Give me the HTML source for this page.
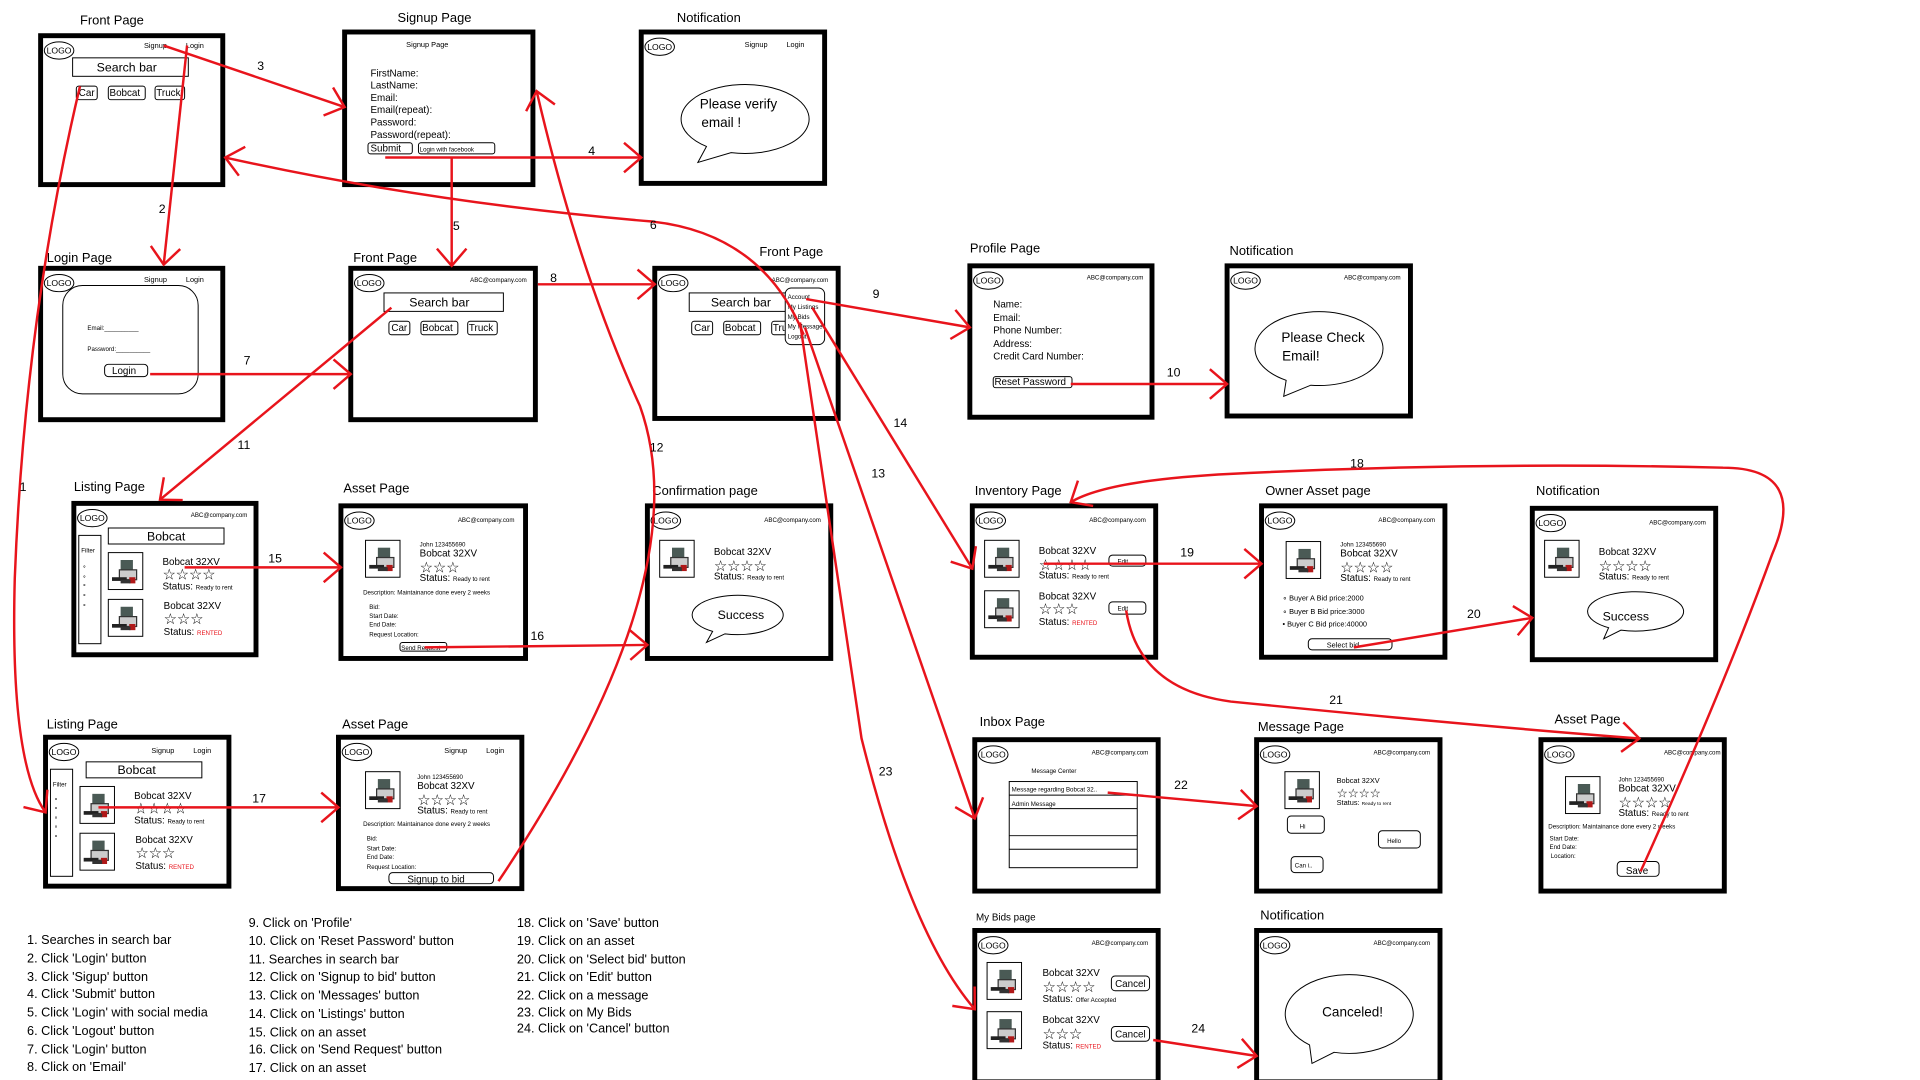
<!DOCTYPE html>
<html><head><meta charset="utf-8"><style>
html,body{margin:0;padding:0;background:#fff;width:1920px;height:1080px;overflow:hidden}
svg{display:block}
text{font-family:"Liberation Sans",sans-serif;fill:#000}
.t{font-size:10.5px}
.s{font-size:6px}
.xs{font-size:5px}
.m{font-size:8px}
.st{font-size:12px}
.f{fill:#fff;stroke:#000;stroke-width:4}
.o{fill:#fff;stroke:#000;stroke-width:0.8}
.a{fill:none;stroke:#e8141c;stroke-width:2}
</style></head><body>
<svg width="1920" height="1080" viewBox="0 0 1560 877.5" preserveAspectRatio="none" xmlns="http://www.w3.org/2000/svg">
<defs>
<marker id="ah" markerUnits="userSpaceOnUse" markerWidth="40" markerHeight="40" refX="20" refY="20" orient="auto">
<path d="M6,8 L20,20 L6,32" fill="none" stroke="#e8141c" stroke-width="2"/>
</marker>
<g id="logo"><ellipse cx="17" cy="14" rx="12" ry="7" fill="#fff" stroke="#000" stroke-width="0.8"/><text x="17" y="16.5" font-size="7" text-anchor="middle">LOGO</text></g>
<g id="pic"><rect x="0" y="0" width="28" height="30" fill="#fff" stroke="#000" stroke-width="0.8"/><rect x="10" y="6" width="10" height="9" fill="#4a5a55"/><rect x="9" y="14" width="14" height="8" fill="#ccc" stroke="#333" stroke-width="1"/><rect x="3" y="20" width="12" height="3" fill="#222"/><rect x="17" y="20" width="5" height="5" fill="#b01818"/><rect x="10" y="22" width="8" height="3" fill="#333"/></g>
</defs>

<!-- Front Page -->
<text x="65" y="20" class="t">Front Page</text>
<g transform="translate(31,27)"><rect class="f" x="2" y="2" width="148" height="121"/><use href="#logo" x="0" y="0"/>
<text x="86" y="12" class="s">Signup</text><text x="120" y="12" class="s">Login</text>
<rect class="o" x="28" y="20" width="94" height="15"/><text x="72" y="31" font-size="10" text-anchor="middle">Search bar</text>
<rect class="o" x="31" y="43" width="17" height="11" rx="2"/><text x="33" y="51" class="m">Car</text>
<rect class="o" x="57" y="43" width="30" height="11" rx="2"/><text x="58" y="51" class="m">Bobcat</text>
<rect class="o" x="95" y="43" width="24" height="11" rx="2"/><text x="96" y="51" class="m">Truck</text></g>

<!-- Signup Page -->
<text x="323" y="18" class="t">Signup Page</text>
<g transform="translate(278,24)"><rect class="f" x="2" y="2" width="153" height="124"/>
<text x="52" y="14" class="s">Signup Page</text>
<text x="23" y="38" class="m">FirstName:</text><text x="23" y="48" class="m">LastName:</text><text x="23" y="58" class="m">Email:</text><text x="23" y="68" class="m">Email(repeat):</text><text x="23" y="78" class="m">Password:</text><text x="23" y="88" class="m">Password(repeat):</text>
<rect class="o" x="21" y="92" width="36" height="9" rx="2"/><text x="23" y="99" class="m">Submit</text>
<rect class="o" x="62" y="92" width="62" height="9" rx="2"/><text x="63" y="99" class="xs">Login with facebook</text></g>

<!-- Notification -->
<text x="550" y="18" class="t">Notification</text>
<g transform="translate(519,24)"><rect class="f" x="2" y="2" width="149" height="123"/><use href="#logo"/>
<text x="86" y="14" class="s">Signup</text><text x="120" y="14" class="s">Login</text>
<path d="M55,95 A52,28 0 1,1 75,100 L48,108 Z" class="o"/>
<text x="81" y="64" font-size="11" text-anchor="middle">Please verify</text><text x="67" y="79" font-size="11" text-anchor="middle">email !</text></g>

<!-- Login Page -->
<text x="38" y="213" class="t">Login Page</text>
<g transform="translate(31,216)"><rect class="f" x="2" y="2" width="148" height="123"/><use href="#logo"/>
<text x="86" y="13" class="s">Signup</text><text x="120" y="13" class="s">Login</text>
<rect class="o" x="20" y="16" width="110" height="88" rx="16"/>
<text x="40" y="52" class="xs">Email:__________</text><text x="40" y="69" class="xs">Password:__________</text>
<rect class="o" x="54" y="80" width="35" height="10" rx="3"/><text x="60" y="88" class="m">Login</text></g>

<!-- Front Page 2 -->
<text x="287" y="213" class="t">Front Page</text>
<g transform="translate(283,216)"><rect class="f" x="2" y="2" width="150" height="123"/><use href="#logo"/>
<text x="145" y="13" class="xs" text-anchor="end">ABC@company.com</text>
<rect class="o" x="29" y="22" width="97" height="15"/><text x="74" y="33" font-size="10" text-anchor="middle">Search bar</text>
<rect class="o" x="33" y="45" width="17" height="11" rx="2"/><text x="35" y="53" class="m">Car</text>
<rect class="o" x="59" y="45" width="30" height="11" rx="2"/><text x="60" y="53" class="m">Bobcat</text>
<rect class="o" x="97" y="45" width="24" height="11" rx="2"/><text x="98" y="53" class="m">Truck</text></g>

<!-- Front Page 3 -->
<text x="617" y="208" class="t">Front Page</text>
<g transform="translate(530,216)"><rect class="f" x="2" y="2" width="149" height="122"/><use href="#logo"/>
<text x="143" y="13" class="xs" text-anchor="end">ABC@company.com</text>
<rect class="o" x="30" y="22" width="80" height="15"/><text x="72" y="33" font-size="10" text-anchor="middle">Search bar</text>
<rect class="o" x="32" y="45" width="17" height="11" rx="2"/><text x="34" y="53" class="m">Car</text>
<rect class="o" x="58" y="45" width="30" height="11" rx="2"/><text x="59" y="53" class="m">Bobcat</text>
<rect class="o" x="97" y="45" width="24" height="11" rx="2"/><text x="98" y="53" class="m">Tru</text>
<rect class="o" x="108" y="18" width="32" height="46" rx="5"/>
<text x="110" y="27" class="xs">Account</text><text x="110" y="35" class="xs">My Listings</text><text x="110" y="43" class="xs">My Bids</text><text x="110" y="51" class="xs">My Messages</text><text x="110" y="59" class="xs">Logout</text></g>

<!-- Profile -->
<text x="788" y="205" class="t">Profile Page</text>
<g transform="translate(786,214)"><rect class="f" x="2" y="2" width="148" height="123"/><use href="#logo"/>
<text x="143" y="13" class="xs" text-anchor="end">ABC@company.com</text>
<text x="21" y="36" class="m">Name:</text><text x="21" y="47" class="m">Email:</text><text x="21" y="57" class="m">Phone Number:</text><text x="21" y="68" class="m">Address:</text><text x="21" y="78" class="m">Credit Card Number:</text>
<rect class="o" x="21" y="92" width="64" height="9" rx="2"/><text x="22" y="99" class="m">Reset Password</text></g>

<!-- Notification 2 -->
<text x="999" y="207" class="t">Notification</text>
<g transform="translate(995,214)"><rect class="f" x="2" y="2" width="149" height="122"/><use href="#logo"/>
<text x="143" y="13" class="xs" text-anchor="end">ABC@company.com</text>
<path d="M50,95 A52,30 0 1,1 70,99 L48,108 Z" class="o"/>
<text x="80" y="64" font-size="11" text-anchor="middle">Please Check</text><text x="62" y="79" font-size="11" text-anchor="middle">Email!</text></g>

<!-- Listing Page -->
<text x="60" y="399" class="t">Listing Page</text>
<g transform="translate(58,407)"><rect class="f" x="2" y="2" width="148" height="123"/><use href="#logo"/>
<text x="143" y="13" class="xs" text-anchor="end">ABC@company.com</text>
<rect class="o" x="30" y="22" width="94" height="13"/><text x="77" y="32" font-size="10" text-anchor="middle">Bobcat</text>
<rect class="o" x="6" y="28" width="18" height="88"/><text x="8" y="42" class="xs">Filter</text>
<text x="9" y="55" class="xs">∘</text><text x="9" y="63" class="xs">∘</text><text x="9" y="70" class="xs">∘</text><text x="9" y="78" class="xs">∘</text><text x="9" y="86" class="xs">∘</text>
<use href="#pic" x="30" y="42"/><text x="74" y="52" class="m">Bobcat 32XV</text><text x="74" y="64" class="st">☆☆☆☆</text><text x="74" y="72" class="m">Status: <tspan class="xs">Ready to rent</tspan></text>
<use href="#pic" x="30" y="80"/><text x="75" y="88" class="m">Bobcat 32XV</text><text x="75" y="100" class="st">☆☆☆</text><text x="75" y="109" class="m">Status: <tspan class="xs" fill="#e8141c">RENTED</tspan></text></g>

<!-- Asset Page -->
<text x="279" y="400" class="t">Asset Page</text>
<g transform="translate(275,409)"><rect class="f" x="2" y="2" width="150" height="124"/><use href="#logo"/>
<text x="143" y="15" class="xs" text-anchor="end">ABC@company.com</text>
<use href="#pic" x="22" y="30"/><text x="66" y="35" class="xs">John 123455690</text><text x="66" y="43" class="m">Bobcat 32XV</text><text x="66" y="56" class="st">☆☆☆</text><text x="66" y="63" class="m">Status: <tspan class="xs">Ready to rent</tspan></text>
<text x="20" y="74" class="xs">Description: Maintainance done every 2 weeks</text>
<text x="25" y="86" class="xs">Bid:</text><text x="25" y="93" class="xs">Start Date:</text><text x="25" y="100" class="xs">End Date:</text><text x="25" y="108" class="xs">Request Location:</text>
<rect class="o" x="50" y="113" width="38" height="7" rx="2"/><text x="51" y="119" class="xs">Send Request</text></g>

<!-- Confirmation -->
<text x="530" y="402" class="t">Confirmation page</text>
<g transform="translate(524,409)"><rect class="f" x="2" y="2" width="149" height="124"/><use href="#logo"/>
<text x="143" y="15" class="xs" text-anchor="end">ABC@company.com</text>
<use href="#pic" x="12" y="30"/><text x="56" y="42" class="m">Bobcat 32XV</text><text x="56" y="55" class="st">☆☆☆☆</text><text x="56" y="62" class="m">Status: <tspan class="xs">Ready to rent</tspan></text>
<path d="M55,104 A37,16 0 1,1 65,106 L50,113 Z" class="o"/>
<text x="78" y="94" font-size="10" text-anchor="middle">Success</text></g>

<!-- Inventory -->
<text x="792" y="402" class="t">Inventory Page</text>
<g transform="translate(788,409)"><rect class="f" x="2" y="2" width="149" height="123"/><use href="#logo"/>
<text x="143" y="15" class="xs" text-anchor="end">ABC@company.com</text>
<use href="#pic" x="12" y="30"/><text x="56" y="41" class="m">Bobcat 32XV</text><text x="56" y="54" class="st">☆☆☆☆</text><text x="56" y="61" class="m">Status: <tspan class="xs">Ready to rent</tspan></text>
<rect class="o" x="113" y="42" width="30" height="9" rx="3"/><text x="120" y="49" class="xs">Edit</text>
<use href="#pic" x="12" y="71"/><text x="56" y="78" class="m">Bobcat 32XV</text><text x="56" y="90" class="st">☆☆☆</text><text x="56" y="99" class="m">Status: <tspan class="xs" fill="#e8141c">RENTED</tspan></text>
<rect class="o" x="113" y="80" width="30" height="10" rx="3"/><text x="120" y="87" class="xs">Edit</text></g>

<!-- Owner Asset -->
<text x="1028" y="402" class="t">Owner Asset page</text>
<g transform="translate(1023,409)"><rect class="f" x="2" y="2" width="149" height="123"/><use href="#logo"/>
<text x="143" y="15" class="xs" text-anchor="end">ABC@company.com</text>
<use href="#pic" x="22" y="31"/><text x="66" y="35" class="xs">John 123455690</text><text x="66" y="43" class="m">Bobcat 32XV</text><text x="66" y="56" class="st">☆☆☆☆</text><text x="66" y="63" class="m">Status: <tspan class="xs">Ready to rent</tspan></text>
<text x="19" y="79" class="s">∘   Buyer A  Bid price:2000</text><text x="19" y="90" class="s">∘   Buyer B  Bid price:3000</text><text x="19" y="100" class="s">•   Buyer C  Bid price:40000</text>
<rect class="o" x="40" y="110" width="68" height="9" rx="3"/><text x="55" y="117" class="s">Select bid</text></g>

<!-- Notification 3 -->
<text x="1248" y="402" class="t">Notification</text>
<g transform="translate(1243,411)"><rect class="f" x="2" y="2" width="149" height="123"/><use href="#logo"/>
<text x="143" y="15" class="xs" text-anchor="end">ABC@company.com</text>
<use href="#pic" x="12" y="28"/><text x="56" y="40" class="m">Bobcat 32XV</text><text x="56" y="53" class="st">☆☆☆☆</text><text x="56" y="60" class="m">Status: <tspan class="xs">Ready to rent</tspan></text>
<path d="M64,99 A39,16 0 1,1 74,101 L60,108 Z" class="o"/>
<text x="78" y="93" font-size="10" text-anchor="middle">Success</text></g>

<!-- Listing Page 2 -->
<text x="38" y="592" class="t">Listing Page</text>
<g transform="translate(35,597)"><rect class="f" x="2" y="2" width="149" height="121"/><use href="#logo"/>
<text x="88" y="15" class="s">Signup</text><text x="122" y="15" class="s">Login</text>
<rect class="o" x="35" y="22" width="94" height="13"/><text x="76" y="32" font-size="10" text-anchor="middle">Bobcat</text>
<rect class="o" x="6" y="28" width="18" height="87"/><text x="8" y="42" class="xs">Filter</text>
<text x="9" y="54" class="xs">∘</text><text x="9" y="61" class="xs">∘</text><text x="9" y="69" class="xs">∘</text><text x="9" y="76" class="xs">∘</text><text x="9" y="84" class="xs">∘</text>
<use href="#pic" x="30" y="42"/><text x="74" y="52" class="m">Bobcat 32XV</text><text x="74" y="64" class="st">☆☆☆☆</text><text x="74" y="72" class="m">Status: <tspan class="xs">Ready to rent</tspan></text>
<use href="#pic" x="30" y="80"/><text x="75" y="88" class="m">Bobcat 32XV</text><text x="75" y="100" class="st">☆☆☆</text><text x="75" y="109" class="m">Status: <tspan class="xs" fill="#e8141c">RENTED</tspan></text></g>

<!-- Asset Page 2 -->
<text x="278" y="592" class="t">Asset Page</text>
<g transform="translate(273,597)"><rect class="f" x="2" y="2" width="149" height="123"/><use href="#logo"/>
<text x="88" y="15" class="s">Signup</text><text x="122" y="15" class="s">Login</text>
<use href="#pic" x="24" y="30"/><text x="66" y="36" class="xs">John 123455690</text><text x="66" y="44" class="m">Bobcat 32XV</text><text x="66" y="57" class="st">☆☆☆☆</text><text x="66" y="64" class="m">Status: <tspan class="xs">Ready to rent</tspan></text>
<text x="22" y="74" class="xs">Description: Maintainance done every 2 weeks</text>
<text x="25" y="86" class="xs">Bid:</text><text x="25" y="94" class="xs">Start Date:</text><text x="25" y="101" class="xs">End Date:</text><text x="25" y="109" class="xs">Request Location:</text>
<rect class="o" x="43" y="112" width="85" height="9" rx="3"/><text x="58" y="120" class="m">Signup to bid</text></g>

<!-- Inbox -->
<text x="796" y="590" class="t">Inbox Page</text>
<g transform="translate(790,599)"><rect class="f" x="2" y="2" width="149" height="123"/><use href="#logo"/>
<text x="143" y="14" class="xs" text-anchor="end">ABC@company.com</text>
<text x="48" y="29" class="xs">Message Center</text>
<rect class="o" x="30" y="36" width="104" height="70"/>
<line x1="30" y1="47" x2="134" y2="47" stroke="#000" stroke-width="0.8"/><line x1="30" y1="58" x2="134" y2="58" stroke="#000" stroke-width="0.8"/><line x1="30" y1="80" x2="134" y2="80" stroke="#000" stroke-width="0.8"/><line x1="30" y1="91" x2="134" y2="91" stroke="#000" stroke-width="0.8"/>
<text x="32" y="44" class="xs">Message regarding Bobcat 32..</text><text x="32" y="56" class="xs">Admin Message</text></g>

<!-- Message -->
<text x="1022" y="594" class="t">Message Page</text>
<g transform="translate(1019,599)"><rect class="f" x="2" y="2" width="149" height="123"/><use href="#logo"/>
<text x="143" y="14" class="xs" text-anchor="end">ABC@company.com</text>
<use href="#pic" x="25" y="28"/><text x="67" y="37" class="s">Bobcat 32XV</text><text x="67" y="49" font-size="10">☆☆☆☆</text><text x="67" y="55" class="s">Status: <tspan font-size="4">Ready to rent</tspan></text>
<rect class="o" x="27" y="64" width="30" height="14" rx="3"/><text x="37" y="74" class="xs">Hi</text>
<rect class="o" x="101" y="76" width="34" height="14" rx="3"/><text x="108" y="86" class="xs">Hello</text>
<rect class="o" x="30" y="97" width="26" height="13" rx="3"/><text x="33" y="106" class="xs">Can i..</text></g>

<!-- Asset Page 3 -->
<text x="1263" y="588" class="t">Asset Page</text>
<g transform="translate(1250,599)"><rect class="f" x="2" y="2" width="149" height="123"/><use href="#logo"/>
<text x="148" y="14" class="xs" text-anchor="end">ABC@company.com</text>
<use href="#pic" x="22" y="32"/><text x="65" y="36" class="xs">John 123455690</text><text x="65" y="44" class="m">Bobcat 32XV</text><text x="65" y="57" class="st">☆☆☆☆</text><text x="65" y="64" class="m">Status: <tspan class="xs">Ready to rent</tspan></text>
<text x="8" y="74" class="xs">Description: Maintainance done every 2 weeks</text>
<text x="9" y="84" class="xs">Start Date:</text><text x="9" y="91" class="xs">End Date:</text><text x="10" y="98" class="xs">Location:</text>
<rect class="o" x="64" y="101" width="34" height="12" rx="3"/><text x="71" y="111" class="m">Save</text></g>

<!-- My Bids -->
<text x="793" y="748" font-size="8">My Bids page</text>
<g transform="translate(790,754)"><rect class="f" x="2" y="2" width="149" height="123"/><use href="#logo"/>
<text x="143" y="14" class="xs" text-anchor="end">ABC@company.com</text>
<use href="#pic" x="12" y="28"/><text x="57" y="39" class="m">Bobcat 32XV</text><text x="57" y="52" class="st">☆☆☆☆</text><text x="57" y="60" class="m">Status: <tspan class="xs">Offer Accepted</tspan></text>
<rect class="o" x="113" y="39" width="31" height="12" rx="3"/><text x="116" y="48" class="m">Cancel</text>
<use href="#pic" x="12" y="68"/><text x="57" y="77" class="m">Bobcat 32XV</text><text x="57" y="90" class="st">☆☆☆</text><text x="57" y="98" class="m">Status: <tspan class="xs" fill="#e8141c">RENTED</tspan></text>
<rect class="o" x="113" y="80" width="31" height="12" rx="3"/><text x="116" y="89" class="m">Cancel</text></g>

<!-- Notification 4 -->
<text x="1024" y="747" class="t">Notification</text>
<g transform="translate(1019,754)"><rect class="f" x="2" y="2" width="149" height="123"/><use href="#logo"/>
<text x="143" y="14" class="xs" text-anchor="end">ABC@company.com</text>
<path d="M45,95 A52,32 0 1,1 65,101 L47,110 Z" class="o"/>
<text x="80" y="72" font-size="11" text-anchor="middle">Canceled!</text></g>

<!-- Arrows -->
<path class="a" marker-end="url(#ah)" d="M65,70 Q20,260 12,470 Q8,620 37,660"/>
<path class="a" marker-end="url(#ah)" d="M152,37 L133,215"/>
<path class="a" marker-end="url(#ah)" d="M133,37 L280,87"/>
<path class="a" marker-end="url(#ah)" d="M313,128 L521,128"/>
<path class="a" marker-end="url(#ah)" d="M367,128 L367,216"/>
<path class="a" marker-end="url(#ah)" d="M653,272 Q620,190 530,180 Q350,165 183,128"/>
<path class="a" marker-end="url(#ah)" d="M122,304 L285,304"/>
<path class="a" marker-end="url(#ah)" d="M437,231 L532,231"/>
<path class="a" marker-end="url(#ah)" d="M655,243 L788,266"/>
<path class="a" marker-end="url(#ah)" d="M870,312 L997,312"/>
<path class="a" marker-end="url(#ah)" d="M318,250 L130,406"/>
<path class="a" marker-end="url(#ah)" d="M405,716 Q570,470 520,330 Q470,220 436,74"/>
<path class="a" marker-end="url(#ah)" d="M654,266 L792,665"/>
<path class="a" marker-end="url(#ah)" d="M660,250 L790,462"/>
<path class="a" marker-end="url(#ah)" d="M150,461 L277,461"/>
<path class="a" marker-end="url(#ah)" d="M345,526 L526,524"/>
<path class="a" marker-end="url(#ah)" d="M80,656 L275,656"/>
<path class="a" marker-end="url(#ah)" d="M1333,708 Q1400,560 1440,450 Q1470,380 1400,380 Q1200,375 1000,385 Q900,390 870,408"/>
<path class="a" marker-end="url(#ah)" d="M848,458 L1025,458"/>
<path class="a" marker-end="url(#ah)" d="M1100,526 L1245,502"/>
<path class="a" marker-end="url(#ah)" d="M915,496 Q925,560 1000,570 Q1200,590 1332,600"/>
<path class="a" marker-end="url(#ah)" d="M900,644 L1021,655"/>
<path class="a" marker-end="url(#ah)" d="M650,262 L700,600 Q740,760 792,820"/>
<path class="a" marker-end="url(#ah)" d="M937,845 L1021,858"/>

<!-- Arrow labels -->
<g font-size="10">
<text x="16" y="399">1</text><text x="129" y="173">2</text><text x="209" y="57">3</text><text x="478" y="126">4</text><text x="368" y="187">5</text><text x="528" y="186">6</text><text x="198" y="296">7</text><text x="447" y="229">8</text><text x="709" y="242">9</text><text x="948" y="306">10</text><text x="193" y="365">11</text><text x="528" y="367">12</text><text x="708" y="388">13</text><text x="726" y="347">14</text><text x="218" y="457">15</text><text x="431" y="520">16</text><text x="205" y="652">17</text><text x="1097" y="380">18</text><text x="959" y="452">19</text><text x="1192" y="502">20</text><text x="1080" y="572">21</text><text x="954" y="641">22</text><text x="714" y="630">23</text><text x="968" y="839">24</text>
</g>

<!-- Legend -->
<g font-size="10.3">
<text x="22" y="767">1. Searches in search bar</text><text x="22" y="782">2. Click 'Login' button</text><text x="22" y="797">3. Click 'Sigup' button</text><text x="22" y="811">4. Click 'Submit' button</text><text x="22" y="826">5. Click 'Login' with social media</text><text x="22" y="841">6. Click 'Logout' button</text><text x="22" y="856">7. Click 'Login' button</text><text x="22" y="870">8. Click on 'Email'</text>
<text x="202" y="753">9. Click on 'Profile'</text><text x="202" y="768">10. Click on 'Reset Password' button</text><text x="202" y="783">11. Searches in search bar</text><text x="202" y="797">12. Click on 'Signup to bid' button</text><text x="202" y="812">13. Click on 'Messages' button</text><text x="202" y="827">14. Click on 'Listings' button</text><text x="202" y="842">15. Click on an asset</text><text x="202" y="856">16. Click on 'Send Request' button</text><text x="202" y="871">17. Click on an asset</text>
<text x="420" y="753">18. Click on 'Save' button</text><text x="420" y="768">19. Click on an asset</text><text x="420" y="783">20. Click on 'Select bid' button</text><text x="420" y="797">21. Click on 'Edit' button</text><text x="420" y="812">22. Click on a message</text><text x="420" y="826">23. Click on My Bids</text><text x="420" y="839">24. Click on 'Cancel' button</text>
</g>
</svg>
</body></html>
